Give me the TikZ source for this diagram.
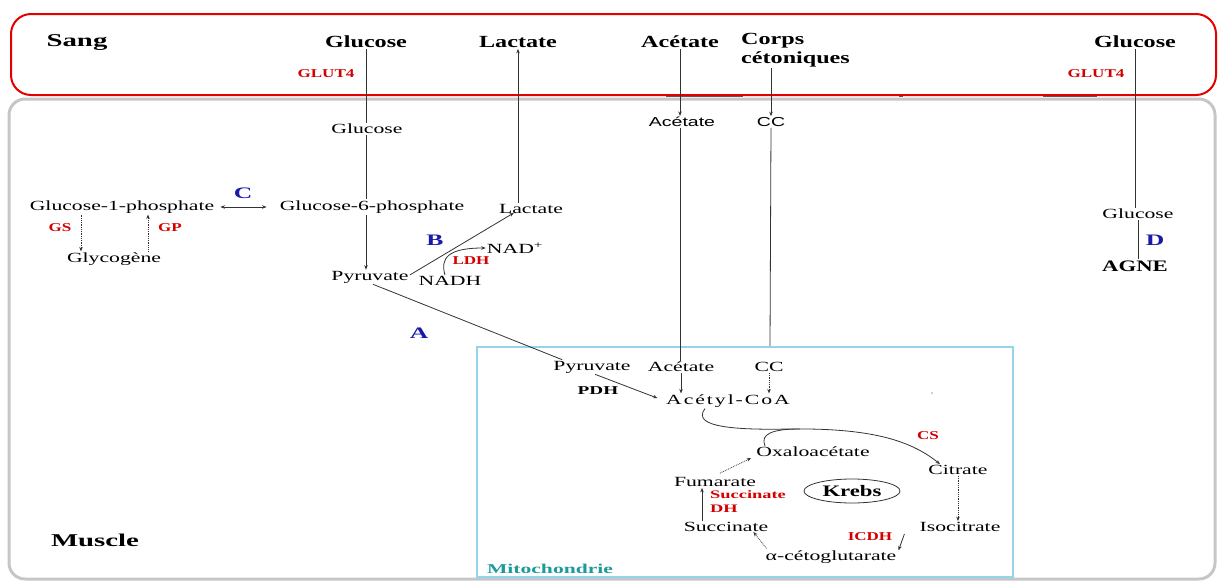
\documentclass[tikz,border=0pt]{standalone}
\usepackage{fontspec}
\setmainfont{Liberation Serif}
\newfontfamily\lblfont[FakeStretch=1.55]{Liberation Serif}
\newfontfamily\lblwide[FakeStretch=1.55, LetterSpace=14]{Liberation Serif}
\newfontfamily\bldfont[FakeStretch=1.42]{Liberation Serif}
\newfontfamily\bigfont[FakeStretch=1.6]{Liberation Serif}
\newfontfamily\sansf[FakeStretch=1.5]{Liberation Sans}
\usetikzlibrary{arrows.meta,shapes.geometric,calc}
\definecolor{enzred}{HTML}{D40000}
\definecolor{letblue}{HTML}{1A1AA8}
\definecolor{mitoblue}{HTML}{93D5EA}
\definecolor{mitoteal}{HTML}{1E9A9A}
\definecolor{linegray}{HTML}{333333}
\begin{document}
\begin{tikzpicture}[x=1pt,y=-1pt,
  blood/.style={font=\fontsize{17}{19}\selectfont\bldfont\bfseries, inner sep=1pt},
  title/.style={font=\fontsize{18}{20}\selectfont\bigfont\bfseries, inner sep=1pt},
  lbl/.style={font=\fontsize{14}{16}\selectfont\lblfont, inner sep=1pt},
  sanslbl/.style={font=\fontsize{13}{15}\selectfont\sansf, inner sep=1pt},
  enz/.style={font=\fontsize{12}{14}\selectfont\bldfont\bfseries, text=enzred, inner sep=1pt},
  letr/.style={font=\fontsize{16}{18}\selectfont\bigfont\bfseries, text=letblue, inner sep=1pt},
  conn/.style={draw=linegray, line width=0.8pt},
  arr/.style={conn, -{Stealth[length=4.5pt,width=3.5pt]}},
  darr/.style={arr, densely dotted},
  seam/.style={draw=linegray!80, line width=0.9pt},
]
\useasboundingbox (0,0) rectangle (1219,581);
% compartments
\draw[gray!45, line width=3pt, rounded corners=16pt] (9,99) rectangle (1215,579);
\draw[seam] (666,96.5) -- (743,96.5);
\draw[seam] (1043,96.5) -- (1097,96.5);
\draw[seam] (899,96.5) -- (903,96.5);
\draw[red!90!black, line width=2pt, rounded corners=20pt] (11,14) rectangle (1216,95);
\draw[mitoblue, line width=2.5pt] (477,347) rectangle (1013,577);
\fill[linegray] (932,393) circle (0.7pt);

% blood
\node[title] (sang) at (77,43) {Sang};
\node[blood] (gb1) at (366,42) {Glucose};
\node[blood] (lb) at (518,42) {Lactate};
\node[blood] (ab) at (680,42) {Acétate};
\node[blood, align=left, anchor=north west] (cb) at (740,32) {Corps\\cétoniques};
\node[blood] (gb2) at (1135,42) {Glucose};
\node[enz] (glut1) at (326,74) {GLUT4};
\node[enz] (glut2) at (1096,74) {GLUT4};

% muscle
\node[lbl] (gm1) at (367,129) {Glucose};
\node[lbl] (g6p) at (372,207) {Glucose-6-phosphate};
\node[lbl] (g1p) at (122,207) {Glucose-1-phosphate};
\node[lbl] (glyc) at (114,259) {Glycogène};
\node[lbl] (pyr) at (370,277) {Pyruvate};
\node[lbl] (lm) at (531,209) {Lactate};
\node[lbl] (nadp) at (515,248) {NAD\textsuperscript{+}};
\node[lbl] (nadh) at (450,281) {NADH};
\node[sanslbl] (am) at (682,122) {Acétate};
\node[sanslbl] (ccm) at (771,122) {CC};
\node[lbl] (gm2) at (1138,214) {Glucose};
\node[blood, font=\fontsize{16}{18}\selectfont\bldfont\bfseries] (agne) at (1135,266) {AGNE};
\node[title] (muscle) at (95,540) {Muscle};
\node[letr] (lc) at (243,193) {C};
\node[letr] (lbb) at (435,240) {B};
\node[letr] (la) at (419,333) {A};
\node[letr] (ld) at (1155,240) {D};
\node[enz] (gs) at (60,228) {GS};
\node[enz] (gp) at (170,228) {GP};
\node[enz] (ldh) at (471,261) {LDH};

% mitochondrie
\node[lbl] (pyrm) at (592,367) {Pyruvate};
\node[lbl] (acm) at (681,367) {Acétate};
\node[lbl] (ccmi) at (769,367) {CC};
\node[lbl, font=\fontsize{14}{16}\selectfont\lblwide] (acoa) at (728,401) {Acétyl-CoA};
\node[font=\fontsize{12}{14}\selectfont\bigfont\bfseries, inner sep=1pt] (pdh) at (598,391) {PDH};
\node[lbl] (oxa) at (813,452) {Oxaloacétate};
\node[lbl] (cit) at (958,470) {Citrate};
\node[lbl] (iso) at (960,527) {Isocitrate};
\node[lbl] (akg) at (831,557) {α-cétoglutarate};
\node[lbl] (succ) at (726,527) {Succinate};
\node[lbl] (fum) at (715,482) {Fumarate};
\node[draw=linegray, line width=0.8pt, ellipse, minimum width=96pt, minimum height=24pt, inner sep=0pt,
      font=\fontsize{16}{18}\selectfont\bldfont\bfseries] (krebs) at (852,491) {Krebs};
\node[enz, align=left, anchor=north west, font=\fontsize{11.5}{14}\selectfont\bigfont\bfseries] (sdh) at (709,489) {Succinate\\DH};
\node[enz] (cs) at (928,436) {CS};
\node[enz] (icdh) at (870,537) {ICDH};
\node[font=\fontsize{13.5}{15}\selectfont\bigfont\bfseries, text=mitoteal, inner sep=1pt] (mito) at (550,569) {Mitochondrie};
\coordinate (ccend) at (770,346);

% connectors
\draw[conn] (gb1.south) -- (gb1.south |- gm1.north);
\draw[conn] (gm1.south -| gb1) -- (gb1 |- g6p.north);
\draw[arr] (gb1 |- g6p.south) -- (gb1 |- pyr.north);
\draw[arr] (lb |- lm.north) -- (lb.south);
\draw[arr] (ab.south) -- (ab.south |- am.north);
\draw[conn] (am.south -| ab) -- (ab |- acm.north);
\draw[arr] (cb.south -| ccm) -- (ccm.north);
\draw[conn] (ccm.south) -- (ccend);
\draw[conn] (gb2.south) -- (gb2.south |- gm2.north);
\draw[conn] (agne.north -| gm2) -- (gm2.south);
\draw[arr, {Stealth[length=4.5pt,width=3.5pt]}-{Stealth[length=4.5pt,width=3.5pt]}, shorten <=5pt, shorten >=12pt] (g1p.east) -- (g6p.west);
\draw[darr] ([xshift=-41pt]g1p.south) -- ([xshift=-41pt]g1p.south |- glyc.north);
\draw[darr] ([xshift=26pt]g1p.south |- glyc.north) -- ([xshift=26pt]g1p.south);
\draw[arr] ([yshift=2pt]pyr.east) -- ([xshift=16pt,yshift=2pt]lm.south west);
\draw[arr] ([xshift=-5pt]nadh.north) .. controls (440,258) and (448,248) .. (nadp.west);
\draw[conn] ([xshift=3pt]pyr.south) -- ([xshift=10pt]pyrm.north west);
\draw[arr, shorten >=8pt] ([xshift=3pt]pyrm.south) -- (acoa.west);
\draw[arr] (acm.south) -- (acm.south |- acoa.north);
\draw[darr] (ccmi.south) -- (ccmi.south |- acoa.north);
\draw[arr] ([xshift=-23pt]acoa.south) .. controls (690,428) and (740,430) .. (790,429)
   .. controls (870,428) and (910,440) .. ([xshift=-18pt]cit.north);
\draw[conn] ([xshift=-48pt]oxa.north) .. controls (760,434) and (772,429) .. (800,429);
\draw[darr] (cit.south) -- (cit.south |- iso.north);
\draw[arr] ([xshift=-14pt,yshift=-1pt]iso.south west) -- ([xshift=1pt,yshift=-1pt]akg.north east);
\draw[darr] ([xshift=2pt,yshift=1pt]akg.north west) -- ([xshift=-16pt,yshift=1pt]succ.south east);
\draw[arr] ([xshift=-24pt]succ.north) -- ([xshift=-13pt]fum.south);
\draw[darr] ([xshift=5pt,yshift=3pt]fum.north) -- ([xshift=-4pt,yshift=-6pt]oxa.west);
\end{tikzpicture}
\end{document}
